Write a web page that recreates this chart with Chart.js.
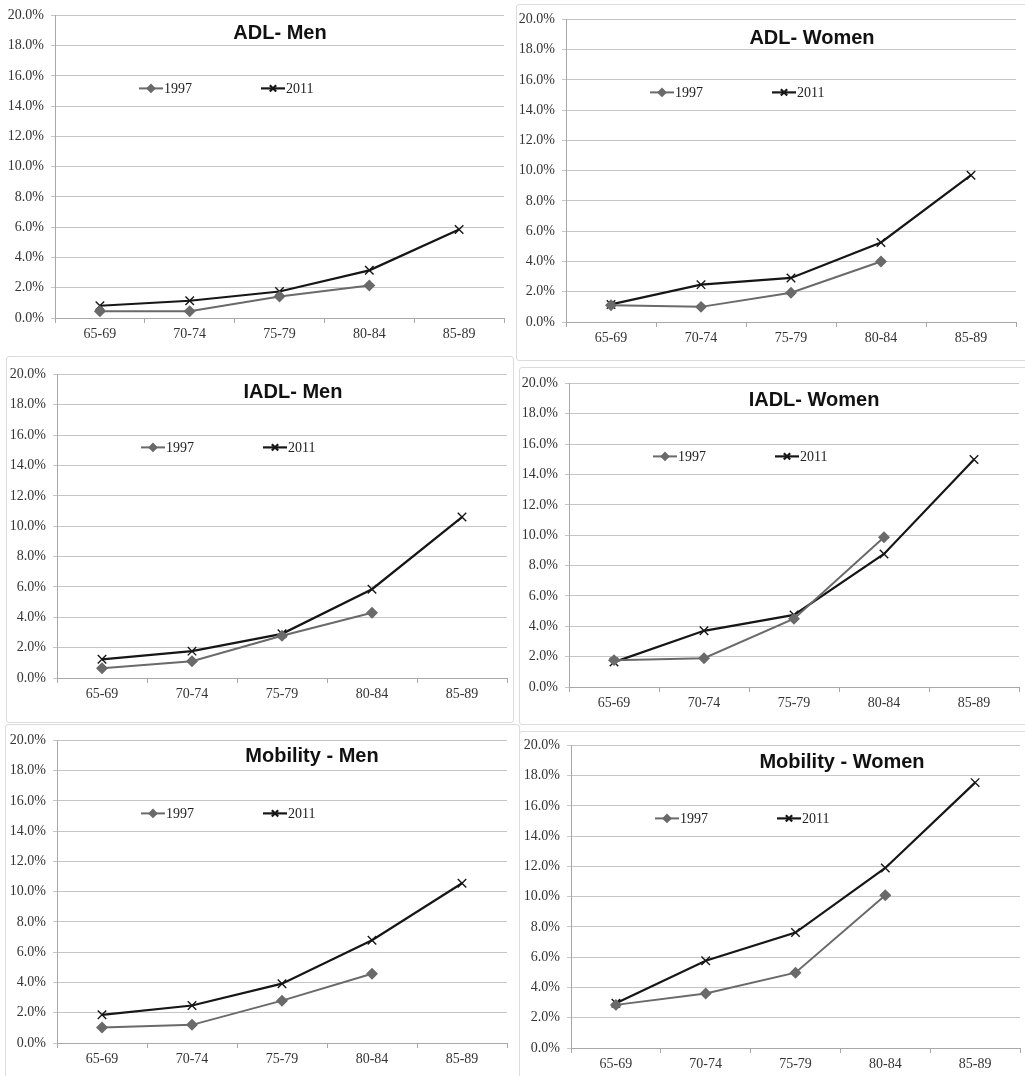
<!DOCTYPE html>
<html>
<head>
<meta charset="utf-8">
<script src="https://cdn.jsdelivr.net/npm/chart.js@4.4.1/dist/chart.umd.min.js"></script>
<style>
  html, body { margin: 0; padding: 0; background: #fff; }
  #page { position: relative; width: 1025px; height: 1076px; overflow: hidden; background: #fff; }
  .frame { position: absolute; border: 1px solid #dcdcdc; border-radius: 3px; }
  canvas { position: absolute; }
</style>
</head>
<body>
<div id="page"></div>
<script>
// age groups on the x axis
const ageGroups = ['65-69', '70-74', '75-79', '80-84', '85-89'];
const years = ['1997', '2011'];

// percentages (1997 has no 85-89 value)
const adlMen1997 = [0.44, 0.44, 1.42, 2.15, null];
const adlMen2011 = [0.81, 1.14, 1.75, 3.15, 5.85];
const adlWomen1997 = [1.10, 1.00, 1.93, 4.00, null];
const adlWomen2011 = [1.16, 2.47, 2.91, 5.26, 9.70];
const iadlMen1997 = [0.64, 1.10, 2.78, 4.30, null];
const iadlMen2011 = [1.23, 1.77, 2.91, 5.85, 10.60];
const iadlWomen1997 = [1.77, 1.90, 4.50, 9.86, null];
const iadlWomen2011 = [1.64, 3.70, 4.75, 8.76, 14.98];
const mobMen1997 = [1.03, 1.20, 2.80, 4.58, null];
const mobMen2011 = [1.86, 2.48, 3.92, 6.79, 10.56];
const mobWomen1997 = [2.85, 3.60, 4.98, 10.09, null];
const mobWomen2011 = [2.96, 5.77, 7.63, 11.90, 17.54];

// y axis ticks
const yMin = 0, yMax = 20, yStep = 2;

const Y_W = 55, X_H = 32, PAD_T = 14, PAD_R = 8;
const serif = "'Liberation Serif', 'Times New Roman', serif";

// plot box [left, top, right, bottom] and title centre, in page pixels
const panels = [
  { title: 'ADL- Men', a: adlMen1997, b: adlMen2011, plot: [55, 14, 504, 318], titleAt: [280, 33] },
  { title: 'ADL- Women', a: adlWomen1997, b: adlWomen2011, plot: [566, 18, 1016, 322], titleAt: [812, 38] },
  { title: 'IADL- Men', a: iadlMen1997, b: iadlMen2011, plot: [57, 373, 507, 678], titleAt: [293, 392] },
  { title: 'IADL- Women', a: iadlWomen1997, b: iadlWomen2011, plot: [569, 382, 1019, 687], titleAt: [814, 400] },
  { title: 'Mobility - Men', a: mobMen1997, b: mobMen2011, plot: [57, 739, 507, 1043], titleAt: [312, 756] },
  { title: 'Mobility - Women', a: mobWomen1997, b: mobWomen2011, plot: [571, 744, 1020, 1048], titleAt: [842, 762] }
];

const frames = [
  [516, 4, 520, 355],
  [6, 356, 506, 365],
  [519, 367, 520, 356],
  [5, 724, 513, 370],
  [519, 731, 520, 360]
];

const style1997 = { color: '#6a6a6a', point: 'rectRot', radius: 5, legendRadius: 3.5, width: 2 };
const style2011 = { color: '#161616', point: 'crossRot', radius: 6, legendRadius: 4.5, width: 2.2 };

const page = document.getElementById('page');

frames.forEach(f => {
  const d = document.createElement('div');
  d.className = 'frame';
  d.style.left = f[0] + 'px';
  d.style.top = f[1] + 'px';
  d.style.width = f[2] + 'px';
  d.style.height = f[3] + 'px';
  page.appendChild(d);
});

const decorPlugin = {
  id: 'decor',
  afterDraw(chart, args, opts) {
    const { ctx, chartArea } = chart;
    ctx.save();
    // title
    ctx.fillStyle = '#111';
    ctx.font = "bold 20px 'Liberation Sans', Arial, sans-serif";
    ctx.textAlign = 'center';
    ctx.textBaseline = 'middle';
    ctx.fillText(opts.title, opts.titleX, opts.titleY);

    // legend inside the plot
    const ly = chartArea.top + 73;
    const items = [
      { x: chartArea.left + 84, s: style1997, label: years[0] },
      { x: chartArea.left + 206, s: style2011, label: years[1] }
    ];
    items.forEach(it => {
      ctx.strokeStyle = it.s.color;
      ctx.lineWidth = it.s.width;
      ctx.beginPath();
      ctx.moveTo(it.x, ly);
      ctx.lineTo(it.x + 24, ly);
      ctx.stroke();
      ctx.fillStyle = it.s.color;
      Chart.helpers.drawPoint(ctx, {
        pointStyle: it.s.point, radius: it.s.legendRadius, rotation: 0, borderWidth: 1.3
      }, it.x + 12, ly);
      ctx.fillStyle = '#222';
      ctx.font = '14px ' + serif;
      ctx.textAlign = 'left';
      ctx.fillText(it.label, it.x + 25, ly + 1);
    });
    ctx.restore();
  }
};

function makeDataset(label, values, s) {
  return {
    label,
    data: values,
    borderColor: s.color,
    backgroundColor: s.color,
    borderWidth: s.width,
    pointStyle: s.point,
    pointRadius: s.radius,
    pointBorderWidth: 1.4,
    pointBorderColor: s.color,
    pointBackgroundColor: s.color,
    tension: 0,
    spanGaps: false
  };
}

panels.forEach(p => {
  const [pl, pt, pr, pb] = p.plot;
  const left = pl - Y_W, top = pt - PAD_T;
  const w = pr - left + PAD_R, h = pb - top + X_H;
  const canvas = document.createElement('canvas');
  canvas.width = w;
  canvas.height = h;
  canvas.style.left = left + 'px';
  canvas.style.top = top + 'px';
  canvas.style.width = w + 'px';
  canvas.style.height = h + 'px';
  page.appendChild(canvas);

  new Chart(canvas, {
    type: 'line',
    data: {
      labels: ageGroups,
      datasets: [makeDataset(years[0], p.a, style1997), makeDataset(years[1], p.b, style2011)]
    },
    options: {
      responsive: false,
      animation: false,
      devicePixelRatio: 1,
      layout: { padding: { left: 0, top: PAD_T, right: PAD_R, bottom: 0 } },
      plugins: {
        legend: { display: false },
        tooltip: { enabled: false },
        decor: { title: p.title, titleX: p.titleAt[0] - left, titleY: p.titleAt[1] - top }
      },
      scales: {
        x: {
          type: 'category',
          offset: true,
          grid: { offset: true, drawOnChartArea: false, drawTicks: true, tickLength: 5, color: '#a8a8a8' },
          border: { color: '#a8a8a8', width: 1 },
          ticks: { font: { family: serif, size: 14 }, color: '#333', padding: 3, maxRotation: 0, autoSkip: false },
          afterFit(scale) { scale.height = X_H; }
        },
        y: {
          min: yMin,
          max: yMax,
          grid: { color: '#c6c6c6', tickLength: 4 },
          border: { color: '#a8a8a8', width: 1 },
          ticks: {
            stepSize: yStep,
            autoSkip: false,
            padding: 7,
            color: '#333',
            font: { family: serif, size: 14 },
            callback: v => v.toFixed(1) + '%'
          },
          afterFit(scale) { scale.width = Y_W; }
        }
      }
    },
    plugins: [decorPlugin]
  });
});
</script>
</body>
</html>
